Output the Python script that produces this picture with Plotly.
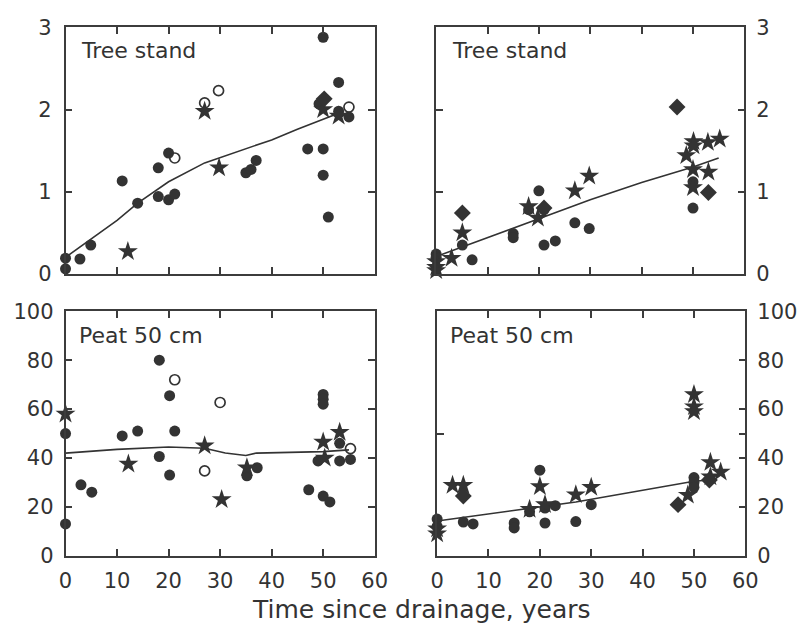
import plotly.graph_objects as go

# ---------------- data ----------------
# Top-left: Tree stand
tl_circle_x = [0, 0, 2.8, 4.9, 11, 14, 18, 18, 20, 20, 21.2, 35, 36, 37, 47, 49.2, 50, 50, 50, 51, 53, 53, 55]
tl_circle_y = [0.19, 0.06, 0.18, 0.35, 1.13, 0.86, 1.29, 0.94, 1.47, 0.90, 0.97, 1.23, 1.27, 1.38, 1.52, 2.07, 2.88, 1.52, 1.20, 0.69, 2.33, 1.98, 1.91]
tl_open_x = [21.2, 27, 29.7, 55]
tl_open_y = [1.41, 2.08, 2.23, 2.03]
tl_star_x = [12.1, 27, 29.8, 50, 53]
tl_star_y = [0.27, 1.98, 1.29, 2.00, 1.92]
tl_diam_x = [50.2]
tl_diam_y = [2.13]
tl_line_x = [0, 5, 10, 14, 20, 27, 35, 40, 45, 50, 54]
tl_line_y = [0.20, 0.42, 0.65, 0.86, 1.12, 1.35, 1.52, 1.63, 1.76, 1.88, 1.98]

# Top-right: Tree stand
tr_circle_x = [0, 0, 5.1, 7, 15, 15, 18, 20, 21, 21, 23.2, 27, 29.8, 50, 50]
tr_circle_y = [0.24, 0.20, 0.35, 0.17, 0.49, 0.44, 0.78, 1.01, 0.78, 0.35, 0.40, 0.62, 0.55, 1.12, 0.80]
tr_star_x = [0, 0, 0, 3, 5.1, 18, 19.8, 27, 29.8, 48.7, 50.1, 50.1, 50, 50, 52.9, 53, 55.2]
tr_star_y = [0.15, 0.08, 0.04, 0.19, 0.50, 0.82, 0.68, 1.01, 1.19, 1.44, 1.61, 1.56, 1.27, 1.05, 1.60, 1.24, 1.64]
tr_diam_x = [5.1, 21, 46.9, 53]
tr_diam_y = [0.74, 0.80, 2.03, 0.99]
tr_line_x = [0, 10, 20, 30, 40, 50, 55]
tr_line_y = [0.21, 0.44, 0.67, 0.90, 1.11, 1.30, 1.41]

# Bottom-left: Peat 50 cm
bl_circle_x = [0, 0, 3, 5.1, 11, 14, 18.2, 18.2, 20.2, 21.2, 20.2, 35.2, 37.2, 47.2, 50, 51.3, 50, 50, 50, 49, 53.2, 53.2, 55.3]
bl_circle_y = [50, 13, 29, 26, 49, 51, 80, 40.6, 65.5, 51, 33, 32.7, 36, 27, 24.4, 22, 66, 64, 62, 38.8, 46, 38.8, 39.4]
bl_star_x = [0, 12.2, 27, 30.3, 35.2, 50, 50.3, 53.2]
bl_star_y = [58, 37.5, 45, 23, 36, 46.5, 40, 50.5]
bl_open_x = [21.2, 27, 30, 55.3]
bl_open_y = [72, 34.7, 62.7, 43.8]
bl_line_x = [0, 10, 20, 27, 31, 35, 37, 45, 50, 55]
bl_line_y = [42, 43.5, 44.5, 44, 42, 41, 42, 42.3, 42.6, 43.3]

# Bottom-right: Peat 50 cm
br_circle_x = [0, 0, 5.1, 7, 15, 15, 18, 20, 21, 21, 23, 27, 30, 50, 50, 50]
br_circle_y = [15, 12, 13.8, 13, 13.4, 11.4, 18, 35, 19.5, 13.4, 20.5, 14, 20.9, 32, 30, 28]
br_star_x = [0, 0, 3, 5.1, 18, 20, 21, 27, 30, 48.8, 50, 50, 50, 53.2, 53.2, 55.2]
br_star_y = [11, 9, 28.8, 28.8, 19, 28.3, 21, 25, 28, 24.8, 66, 61, 59, 38.2, 32.3, 34.3]
br_diam_x = [5.1, 46.9, 53]
br_diam_y = [24.4, 20.9, 31]
br_line_x = [0, 27, 50, 53]
br_line_y = [14.2, 22, 30.5, 31]

x_ticks = [0, 10, 20, 30, 40, 50, 60]
top_y_ticks = [0, 1, 2, 3]
bot_y_ticks = [0, 20, 40, 60, 80, 100]
titles = ["Tree stand", "Tree stand", "Peat 50 cm", "Peat 50 cm"]
x_title = "Time since drainage, years"

# ---------------- style ----------------
INK = "#333333"
AX = "#3c3c3c"
FONT = "DejaVu Sans"
W, H = 811, 638


def px_x(p):
    return p / W


def px_y(p):
    return 1 - p / H


fig = go.Figure()


def add_marks(xs, ys, kind, xa, ya):
    if kind == "circle":
        m = dict(symbol="circle", size=11, color=INK, line=dict(width=0))
    elif kind == "open":
        m = dict(symbol="circle-open", size=10, color=INK, line=dict(width=1.7, color=INK))
    elif kind == "star":
        m = dict(symbol="star", size=15, color=INK, line=dict(width=0))
    else:
        m = dict(symbol="diamond", size=13, color=INK, line=dict(width=0))
    fig.add_trace(go.Scatter(x=xs, y=ys, mode="markers", marker=m, xaxis=xa, yaxis=ya,
                             cliponaxis=False, showlegend=False, hoverinfo="skip"))


def add_line(xs, ys, xa, ya):
    fig.add_trace(go.Scatter(x=xs, y=ys, mode="lines", line=dict(color=INK, width=1.6),
                             xaxis=xa, yaxis=ya, showlegend=False, hoverinfo="skip"))


# top-left
add_line(tl_line_x, tl_line_y, "x", "y")
add_marks(tl_circle_x, tl_circle_y, "circle", "x", "y")
add_marks(tl_open_x, tl_open_y, "open", "x", "y")
add_marks(tl_star_x, tl_star_y, "star", "x", "y")
add_marks(tl_diam_x, tl_diam_y, "diamond", "x", "y")
# top-right
add_line(tr_line_x, tr_line_y, "x2", "y2")
add_marks(tr_circle_x, tr_circle_y, "circle", "x2", "y2")
add_marks(tr_star_x, tr_star_y, "star", "x2", "y2")
add_marks(tr_diam_x, tr_diam_y, "diamond", "x2", "y2")
# bottom-left
add_line(bl_line_x, bl_line_y, "x3", "y3")
add_marks(bl_circle_x, bl_circle_y, "circle", "x3", "y3")
add_marks(bl_open_x, bl_open_y, "open", "x3", "y3")
add_marks(bl_star_x, bl_star_y, "star", "x3", "y3")
# bottom-right
add_line(br_line_x, br_line_y, "x4", "y4")
add_marks(br_circle_x, br_circle_y, "circle", "x4", "y4")
add_marks(br_star_x, br_star_y, "star", "x4", "y4")
add_marks(br_diam_x, br_diam_y, "diamond", "x4", "y4")

tickfont = dict(family=FONT, size=21, color=INK)
base = dict(showline=True, linecolor=AX, linewidth=1.5, mirror="ticks", ticks="inside",
            ticklen=7, tickwidth=1.5, tickcolor=AX, showgrid=False, zeroline=False,
            tickfont=tickfont, fixedrange=True)

top_dom = [px_y(272), px_y(16)]
bot_dom = [px_y(565), px_y(311)]
left_dom = [px_x(60), px_x(377)]
right_dom = [px_x(440), px_x(756)]
right_dom_b = [px_x(441), px_x(757)]

fig.update_layout(
    width=W, height=H, autosize=False,
    margin=dict(l=0, r=0, t=0, b=0),
    paper_bgcolor="white", plot_bgcolor="white",
    xaxis=dict(base, domain=left_dom, range=[0, 60], tickvals=x_ticks, showticklabels=False, anchor="y"),
    yaxis=dict(base, domain=top_dom, range=[0, 3], tickvals=top_y_ticks, anchor="x", ticklabelstandoff=8),
    xaxis2=dict(base, domain=right_dom, range=[0, 60], tickvals=x_ticks, showticklabels=False, anchor="y2"),
    yaxis2=dict(base, domain=top_dom, range=[0, 3], tickvals=top_y_ticks, side="right", anchor="x2",
                ticklabelstandoff=6),
    xaxis3=dict(base, domain=left_dom, range=[0, 60], tickvals=x_ticks, anchor="y3", ticklabelstandoff=5),
    yaxis3=dict(base, domain=bot_dom, range=[0, 100], tickvals=bot_y_ticks, anchor="x3", ticklabelstandoff=6),
    xaxis4=dict(base, domain=right_dom_b, range=[0, 60], tickvals=x_ticks, anchor="y4", ticklabelstandoff=5),
    yaxis4=dict(base, domain=bot_dom, range=[0, 100], tickvals=[0, 20, 40, 50, 60, 80, 100],
                ticktext=["0", "20", "40", "", "60", "80", "100"], side="right", mirror=True, anchor="x4",
                ticklabelstandoff=6),
    yaxis5=dict(overlaying="y4", anchor="x4", side="left", range=[0, 100], tickvals=[50],
                showticklabels=False, ticks="inside", ticklen=7, tickwidth=1.5, tickcolor=AX,
                showline=False, showgrid=False, zeroline=False, fixedrange=True),
)

# a dummy trace so yaxis5 is drawn
fig.add_trace(go.Scatter(x=[None], y=[None], xaxis="x4", yaxis="y5", showlegend=False, hoverinfo="skip"))

title_pos = [(74, 40), (454, 40), (72, 336), (452, 336)]
for t, (xp, yp) in zip(titles, title_pos):
    fig.add_annotation(text=t, xref="paper", yref="paper", x=px_x(xp), y=px_y(yp),
                       xanchor="left", yanchor="middle", showarrow=False,
                       font=dict(family=FONT, size=22, color=INK))

fig.add_annotation(text=x_title, xref="paper", yref="paper", x=px_x(425), y=px_y(638),
                   xanchor="center", yanchor="bottom", showarrow=False,
                   font=dict(family=FONT, size=25, color=INK))

fig.write_html("out.html")
